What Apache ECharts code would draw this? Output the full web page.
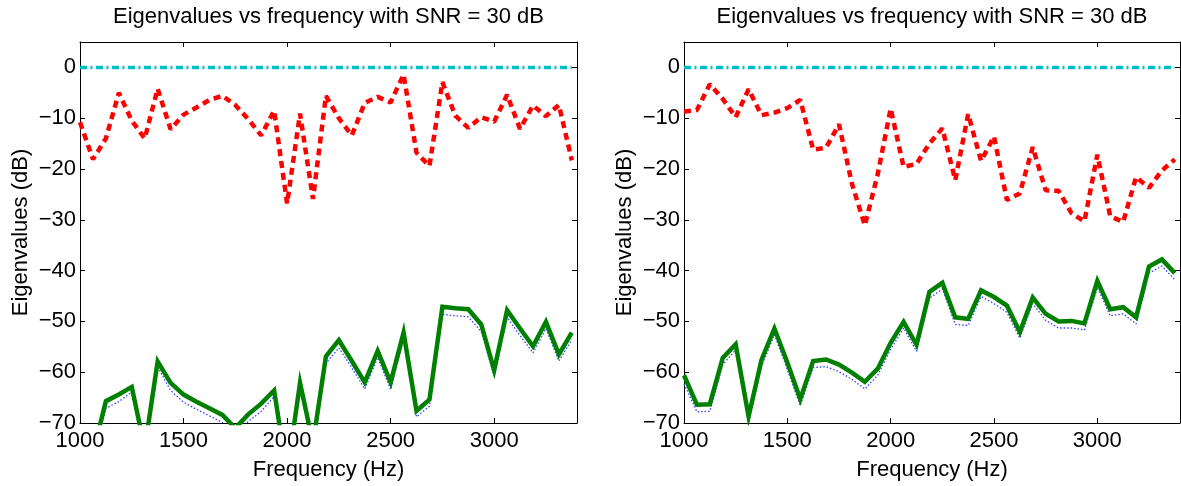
<!DOCTYPE html>
<html>
<head>
<meta charset="utf-8">
<script src="https://cdn.jsdelivr.net/npm/echarts@6/dist/echarts.min.js"></script>
<style>
  html, body { margin: 0; padding: 0; background: #fff; }
  #chart { width: 1181px; height: 486px; }
</style>
</head>
<body>
<div id="chart"></div>
<script>
// frequency grid (Hz)
const freqs = [1000, 1062.5, 1125, 1187.5, 1250, 1312.5, 1375, 1437.5, 1500, 1562.5,
  1625, 1687.5, 1750, 1812.5, 1875, 1937.5, 2000, 2062.5, 2125, 2187.5,
  2250, 2312.5, 2375, 2437.5, 2500, 2562.5, 2625, 2687.5, 2750, 2812.5,
  2875, 2937.5, 3000, 3062.5, 3125, 3187.5, 3250, 3312.5, 3375]

const xTicks = [1000, 1500, 2000, 2500, 3000]
const yTicks = [-70, -60, -50, -40, -30, -20, -10, 0]

// left panel eigenvalues (dB)
const leftTop = [0, 0, 0, 0, 0, 0, 0, 0, 0, 0, 0, 0, 0, 0, 0, 0, 0, 0, 0, 0,
  0, 0, 0, 0, 0, 0, 0, 0, 0, 0, 0, 0, 0, 0, 0, 0, 0, 0, 0]
const leftRed = [-10.8, -18.1, -14, -5, -10.5, -14, -4.2, -12.2, -9.3, -7.9,
  -6.4, -5.6, -7.4, -10.2, -13.4, -8.5, -26.8, -9.1, -25.9, -5.6,
  -10, -13.4, -7, -5.8, -6.9, -1.4, -16.8, -19.4, -2.9, -9.5,
  -11.9, -9.8, -10.7, -5.4, -12.1, -7.5, -9.6, -7.4, -18.3]
const leftGreen = [-75, -76, -65.7, -64.4, -62.9, -75, -57.9, -62.1, -64.4, -65.8,
  -67.1, -68.4, -71, -68.3, -66.2, -63.6, -80, -62.1, -74, -56.9,
  -53.7, -57.8, -62, -55.8, -62, -52.2, -67.6, -65.4, -47.1, -47.4,
  -47.6, -50.6, -59.6, -47.8, -51.4, -54.9, -50.1, -56.5, -52.2]
const leftBlue = [-76.3, -77.3, -67.1, -65.8, -63.9, -76.3, -58.9, -63.6, -65.9, -67.3,
  -68.6, -69.9, -72.3, -69.7, -67.7, -64.8, -81.3, -63.3, -75.3, -58.3,
  -55.2, -59.1, -63.3, -57.1, -63.4, -53.6, -68.8, -66.7, -48.6, -48.9,
  -49.1, -52, -60.8, -49.2, -52.8, -56.2, -51.4, -57.8, -53.6]

// right panel eigenvalues (dB)
const rightTop = [0, 0, 0, 0, 0, 0, 0, 0, 0, 0, 0, 0, 0, 0, 0, 0, 0, 0, 0, 0,
  0, 0, 0, 0, 0, 0, 0, 0, 0, 0, 0, 0, 0, 0, 0, 0, 0, 0, 0]
const rightRed = [-8.7, -8.4, -3.3, -6.2, -9.8, -4.3, -9.4, -8.9, -8, -6.4,
  -16.2, -15.8, -11.2, -22.9, -31.1, -21, -8.1, -19.6, -19, -15,
  -12, -22.2, -9.2, -18.4, -13.6, -26.1, -24.8, -15.7, -24.2, -24.3,
  -28.7, -30.3, -17.2, -29.3, -30.4, -21.6, -23.7, -20.3, -18.1]
const rightGreen = [-60.6, -66.4, -66.3, -57.2, -54.5, -68.7, -57.6, -51.4, -58.1, -65.3,
  -57.8, -57.5, -58.5, -60.1, -61.9, -59.3, -54.2, -50.1, -54.6, -44.2,
  -42.4, -49.2, -49.5, -43.9, -45.2, -46.9, -52.1, -45.3, -48.5, -50,
  -49.9, -50.4, -42, -47.6, -47.2, -49.2, -39.2, -37.8, -40.5]
const rightBlue = [-62.3, -67.8, -67.7, -58.5, -55.6, -69.8, -58.9, -52.6, -59.5, -66.6,
  -59.1, -58.9, -59.9, -61.4, -63.3, -60.6, -55.5, -51.3, -55.9, -45.5,
  -43.6, -50.6, -50.8, -45.1, -46.5, -48.2, -53.3, -46.5, -49.8, -51.3,
  -51.3, -51.7, -43.3, -48.9, -48.5, -50.5, -40.5, -39.1, -41.8]

const titleText = 'Eigenvalues vs frequency with SNR = 30 dB'
const FONT = '"Liberation Sans", Arial, Helvetica, sans-serif'
const FS = 22

const grids = [
  { left: 80, top: 42, width: 497, height: 390 },
  { left: 684, top: 42, width: 496, height: 390 }
]

const pairs = (vals) => freqs.map((f, i) => [f, vals[i]])
const minus = (v) => String(v).replace('-', '\u2212')

function xAxisFor (gi, top) {
  return {
    type: 'value',
    gridIndex: gi,
    position: top ? 'top' : 'bottom',
    min: 1000,
    max: 3400,
    interval: 500,
    name: top ? '' : 'Frequency (Hz)',
    nameLocation: 'middle',
    nameGap: 36,
    nameTextStyle: { color: '#000', fontFamily: FONT, fontSize: FS },
    axisLine: { show: true, onZero: false, lineStyle: { color: '#000', width: 1 } },
    axisTick: { show: true, inside: true, length: 5, lineStyle: { color: '#000' } },
    axisLabel: {
      show: !top,
      margin: 7,
      color: '#000',
      fontFamily: FONT,
      fontSize: FS,
      showMaxLabel: false,
      formatter: (v) => xTicks.includes(v) ? minus(v) : ''
    },
    splitLine: { show: false }
  }
}

function yAxisFor (gi, right) {
  return {
    type: 'value',
    gridIndex: gi,
    position: right ? 'right' : 'left',
    min: -70,
    max: 5,
    interval: 10,
    name: right ? '' : 'Eigenvalues (dB)',
    nameLocation: 'middle',
    nameGap: 48,
    nameTextStyle: { color: '#000', fontFamily: FONT, fontSize: FS },
    axisLine: { show: true, onZero: false, lineStyle: { color: '#000', width: 1 } },
    axisTick: { show: true, inside: true, length: 5, lineStyle: { color: '#000' } },
    axisLabel: {
      show: !right,
      margin: 4,
      color: '#000',
      fontFamily: FONT,
      fontSize: FS,
      showMaxLabel: false,
      formatter: (v) => yTicks.includes(v) ? minus(v) : ''
    },
    splitLine: { show: false }
  }
}

function panelSeries (gi, top, red, green, blue) {
  const axis = { xAxisIndex: gi * 2, yAxisIndex: gi * 2 }
  const base = { type: 'line', showSymbol: false, symbol: 'none', silent: true, clip: true, ...axis }
  return [
    { ...base, data: pairs(blue), lineStyle: { color: '#3344FF', width: 1.3, type: [1.5, 2] } },
    { ...base, data: pairs(green), lineStyle: { color: '#008000', width: 4.5, type: 'solid', join: 'miter' } },
    { ...base, data: pairs(red), lineStyle: { color: '#FF0000', width: 4.5, type: [7, 5] } },
    { ...base, data: pairs(top), lineStyle: { color: '#00BFBF', width: 3.5, type: [7, 3.5, 2, 3.5] } }
  ]
}

const chart = echarts.init(document.getElementById('chart'), null, { renderer: 'canvas' })

chart.setOption({
  animation: false,
  backgroundColor: '#fff',
  grid: grids,
  xAxis: [xAxisFor(0, false), xAxisFor(0, true), xAxisFor(1, false), xAxisFor(1, true)],
  yAxis: [yAxisFor(0, false), yAxisFor(0, true), yAxisFor(1, false), yAxisFor(1, true)],
  graphic: grids.map(g => ({
    type: 'text',
    x: g.left + g.width / 2,
    y: 17,
    style: {
      text: titleText,
      fill: '#000',
      font: `${FS}px ${FONT}`,
      textAlign: 'center',
      textVerticalAlign: 'middle'
    }
  })),
  series: [
    ...panelSeries(0, leftTop, leftRed, leftGreen, leftBlue),
    ...panelSeries(1, rightTop, rightRed, rightGreen, rightBlue)
  ]
})
</script>
</body>
</html>
